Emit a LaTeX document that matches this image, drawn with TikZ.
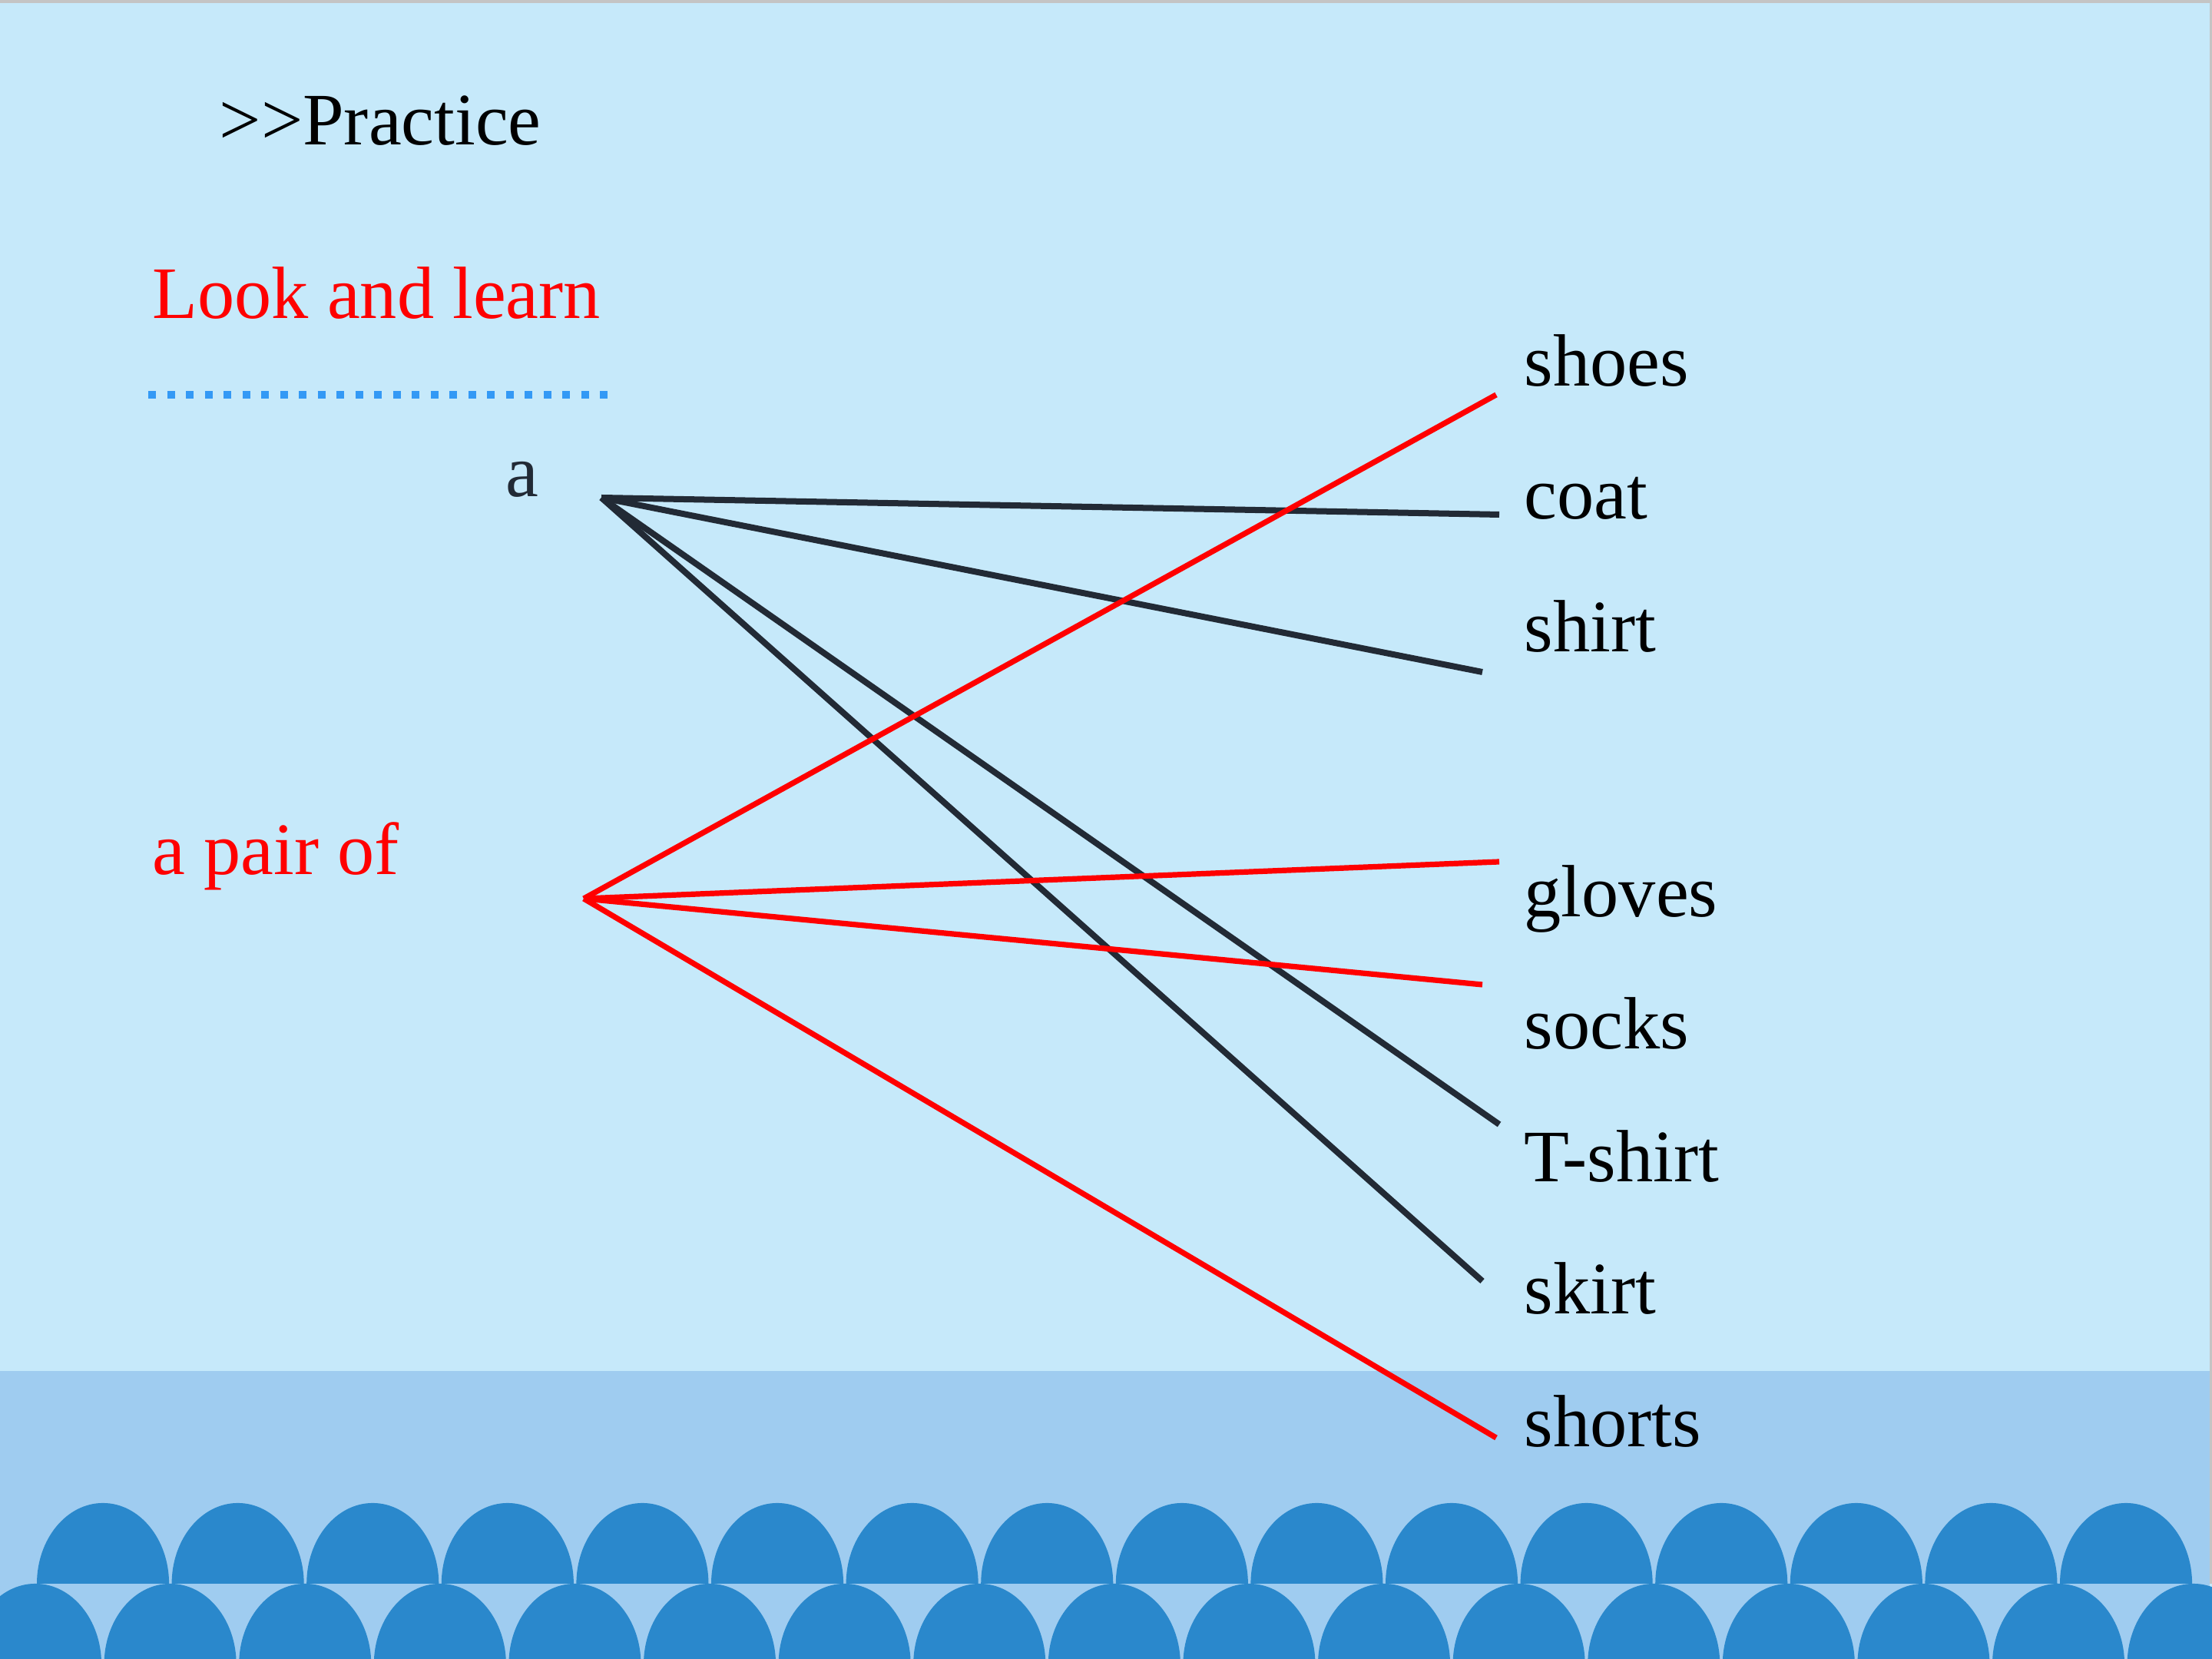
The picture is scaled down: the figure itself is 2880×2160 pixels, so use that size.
\documentclass[tikz,border=0pt]{standalone}
\usepackage{fontspec}
\setmainfont{Liberation Serif}
\definecolor{bgblue}{HTML}{C6E9FA}
\definecolor{bandblue}{HTML}{9FCCF0}
\definecolor{waveblue}{HTML}{2A88CC}
\definecolor{dotblue}{HTML}{3399F5}
\definecolor{darkline}{HTML}{222A35}
\definecolor{edgegray}{HTML}{C4C4C4}
\definecolor{pured}{HTML}{FF0000}
\tikzset{
  word/.style={anchor=base west,inner sep=0pt,font=\fontsize{27.4}{32}\selectfont},
  darkconn/.style={draw=darkline,line width=0.08cm},
  redconn/.style={draw=pured,line width=0.072cm},
  dome/.style={fill=waveblue}
}
\begin{document}
\begin{tikzpicture}[x=0.01cm,y=0.01cm]
\useasboundingbox (0,0) rectangle (2880,2160);
% background
\fill[bgblue] (0,0) rectangle (2880,2160);
\fill[edgegray] (0,2156) rectangle (2880,2160);
\fill[edgegray] (2877,98) rectangle (2880,2160);
\fill[bandblue] (0,0) rectangle (2877,375);
% upper row of domes
\foreach \k in {0,...,15}{
  \pgfmathsetmacro{\cx}{134+\k*175.6}
  \fill[dome] (\cx-86,98) arc[start angle=180,end angle=0,x radius=0.86cm,y radius=1.05cm] -- cycle;
}
% lower row of domes
\foreach \k in {0,...,16}{
  \pgfmathsetmacro{\cx}{46+\k*175.6}
  \fill[dome] (\cx-86,-7) arc[start angle=180,end angle=0,x radius=0.86cm,y radius=1.05cm] -- cycle;
}
% titles
\node[word] (practice) at (285,1971) {>{}>Practice};
\node[word,text=pured] (look) at (198,1745) {Look and learn};
\coordinate (dotL) at (193,1646);
\coordinate (dotR) at (792,1646);
\draw[dotblue,line width=0.1cm,dash pattern=on 0.1cm off 0.145cm] (dotL) -- (dotR);
% left labels
\node[word,text=darkline] (la) at (658,1513) {a};
\node[word,text=pured] (lpair) at (198,1021) {a pair of};
% right words
\node[word] (shoes) at (1984,1657) {shoes};
\node[word] (coat) at (1984,1484) {coat};
\node[word] (shirt) at (1984,1311) {shirt};
\node[word] (gloves) at (1984,966) {gloves};
\node[word] (socks) at (1984,794) {socks};
\node[word] (tshirt) at (1984,621) {T-shirt};
\node[word] (skirt) at (1984,449) {skirt};
\node[word] (shorts) at (1984,276) {shorts};
% hubs and ends
\coordinate (hubA) at (783,1512);
\coordinate (hubP) at (760,990);
\coordinate (eCoat) at (1952,1490);
\coordinate (eShirt) at (1930,1285);
\coordinate (eTshirt) at (1952,696);
\coordinate (eSkirt) at (1930,492);
\coordinate (eShoes) at (1948,1646);
\coordinate (eGloves) at (1952,1038);
\coordinate (eSocks) at (1930,878);
\coordinate (eShorts) at (1948,288);
% connectors
\draw[darkconn] (hubA) -- (eCoat);
\draw[darkconn] (hubA) -- (eShirt);
\draw[darkconn] (hubA) -- (eTshirt);
\draw[darkconn] (hubA) -- (eSkirt);
\draw[redconn] (hubP) -- (eShoes);
\draw[redconn] (hubP) -- (eGloves);
\draw[redconn] (hubP) -- (eSocks);
\draw[redconn] (hubP) -- (eShorts);
\end{tikzpicture}
\end{document}
